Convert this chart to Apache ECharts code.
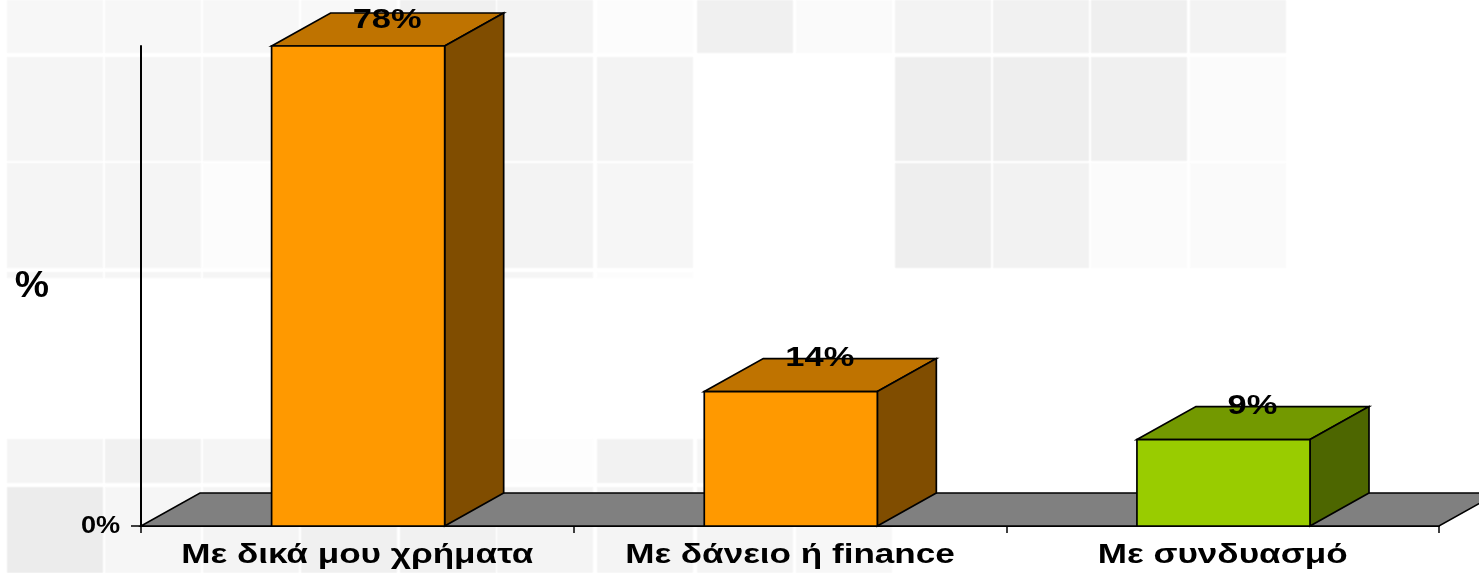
<!DOCTYPE html>
<html>
<head>
<meta charset="utf-8">
<style>html,body{margin:0;padding:0;background:#fff}#c{width:1479px;height:573px}</style>
<script src="https://cdn.jsdelivr.net/npm/echarts@6/dist/echarts.min.js"></script>
</head>
<body>
<div id="c"></div>
<script>
const categories = ['Με δικά μου χρήματα', 'Με δάνειο ή finance', 'Με συνδυασμό'];
const values = [78, 14, 9];
const valueLabels = ['78%', '14%', '9%'];
const yTickValues = [0];
const yTickLabel = '0%';
const yTitle = '%';
const axisMax = 50;

const frontColors = ['#FF9900', '#FF9900', '#99CC00'];
const topColors = ['#BF7300', '#BF7300', '#739900'];
const sideColors = ['#804D00', '#804D00', '#4D6600'];
const floorColor = '#808080';
const depthX = 59, depthY = -33, barRatio = 0.4, barShift = 0.8;
const font = 'bold {s}px "Liberation Sans", Arial, sans-serif';

/* faint backdrop tiles */
const tileCols = [7, 105, 203, 301, 400, 497, 597, 697, 796, 895, 993, 1091, 1190];
const tileW = 96;
const tileRows = [[0, 53], [57, 161], [163, 268], [272, 278], [439, 483], [487, 573]];
const tileGreys = [
  [0xf7,0xf7,0xf7,0xf8,0xf0,0xf3,0xfc,0xf0,0xfa,0xf3,0xf1,0xef,0xf3],
  [0xf5,0xf5,0xf5,0xfa,0xf7,0xf3,0xf3,0,0,0xee,0xee,0xf0,0xfb],
  [0xf5,0xf5,0xfc,0xfc,0xf7,0xf3,0xf6,0,0,0xee,0xf2,0xfb,0xfa],
  [0xf5,0xf5,0xf5,0xf5,0xf5,0xf5,0xfc,0,0,0,0,0,0],
  [0xf4,0xf1,0xf5,0xfd,0xfd,0xfd,0xf2,0xf6,0,0,0,0,0],
  [0xec,0xf6,0xf4,0xf0,0xf1,0xf4,0xf4,0xf4,0xf7,0,0,0,0]
];
const tiles = [];
tileRows.forEach((r, ri) => tileCols.forEach((x, ci) => {
  const g = tileGreys[ri][ci];
  if (!g) return;
  const m = Math.round((g + 255) / 2);
  tiles.push({type:'rect', silent:true, z:-10,
    shape:{x:x, y:r[0], width:tileW, height:r[1]-r[0], r:1},
    style:{fill:'rgb('+g+','+g+','+g+')', stroke:'rgb('+m+','+m+','+m+')', lineWidth:1}});
}));

function stretched(text, cx, cy, size, sx) {
  return {type:'text', x:cx, y:cy, scaleX:sx, z2:50,
    style:{text:text, x:0, y:0, align:'center', verticalAlign:'middle',
      fill:'#000', font:font.replace('{s}', size)}};
}

const chart = echarts.init(document.getElementById('c'), null, {renderer:'canvas'});
chart.setOption({
  animation:false,
  backgroundColor:'#fff',
  graphic:{elements:tiles},
  grid:{left:141, right:40, top:46, bottom:47, containLabel:false},
  xAxis:{type:'category', data:categories, boundaryGap:true,
    axisLine:{show:true, lineStyle:{color:'#000', width:2}},
    axisTick:{show:true, length:7, lineStyle:{color:'#000', width:1.5}},
    axisLabel:{show:false}, splitLine:{show:false}},
  yAxis:{type:'value', min:0, max:axisMax, interval:axisMax,
    axisLine:{show:true, lineStyle:{color:'#000', width:2}},
    axisTick:{show:true, length:10, customValues:yTickValues, lineStyle:{color:'#000', width:1.5}},
    axisLabel:{show:false}, splitLine:{show:false}},
  series:[
    {type:'custom', name:'floor', coordinateSystem:'cartesian2d', data:[[0,0]], z:1, silent:true,
      renderItem:function(params, api){
        const cs = params.coordSys;
        const l = cs.x, r = cs.x+cs.width, b = cs.y+cs.height;
        return {type:'polygon', shape:{points:[[l,b],[l+depthX,b+depthY],[r+depthX,b+depthY],[r,b]]},
          style:{fill:floorColor, stroke:'#000', lineWidth:1.5}};
      }},
    {type:'custom', name:'bars', coordinateSystem:'cartesian2d', z:3, silent:true,
      encode:{x:0, y:1},
      data:values.map((v,i)=>[i,v]),
      renderItem:function(params, api){
        const i = params.dataIndex;
        const v = Math.min(api.value(1), axisMax);
        const top = api.coord([i, v]);
        const base = api.coord([i, 0]);
        const w = api.size([1,0])[0]*barRatio;
        const cx = top[0]+barShift;
        const l = cx-w/2, r = cx+w/2, t = top[1], b = base[1];
        const s = {stroke:'#000', lineWidth:1.7, lineJoin:'miter'};
        const lab = stretched(valueLabels[i], cx+depthX/2-0.5, Math.max(t+depthY, 20), 28, 1.23);
        return {type:'group', children:[
          {type:'polygon', shape:{points:[[l,t],[l+depthX,t+depthY],[r+depthX,t+depthY],[r,t]]},
            style:Object.assign({fill:topColors[i]}, s)},
          {type:'polygon', shape:{points:[[r,t],[r+depthX,t+depthY],[r+depthX,b+depthY],[r,b]]},
            style:Object.assign({fill:sideColors[i]}, s)},
          {type:'rect', shape:{x:l, y:t, width:r-l, height:b-t},
            style:Object.assign({fill:frontColors[i]}, s)},
          lab
        ]};
      }},
    {type:'custom', name:'axis text', coordinateSystem:'cartesian2d', z:5, silent:true,
      encode:{x:0},
      data:categories.map((c,i)=>[i]),
      renderItem:function(params, api){
        const i = params.dataIndex;
        const p = api.coord([i, 0]);
        const children = [stretched(categories[i], p[0], p[1]+30, 27, 1.3)];
        if (i === 0) {
          const cs = params.coordSys;
          children.push(stretched(yTickLabel, cs.x-40.5, p[1]+1, 23, 1.18));
          children.push(stretched(yTitle, cs.x-109, cs.y+241, 36, 1.07));
        }
        return {type:'group', children:children};
      }}
  ]
});
</script>
</body>
</html>
